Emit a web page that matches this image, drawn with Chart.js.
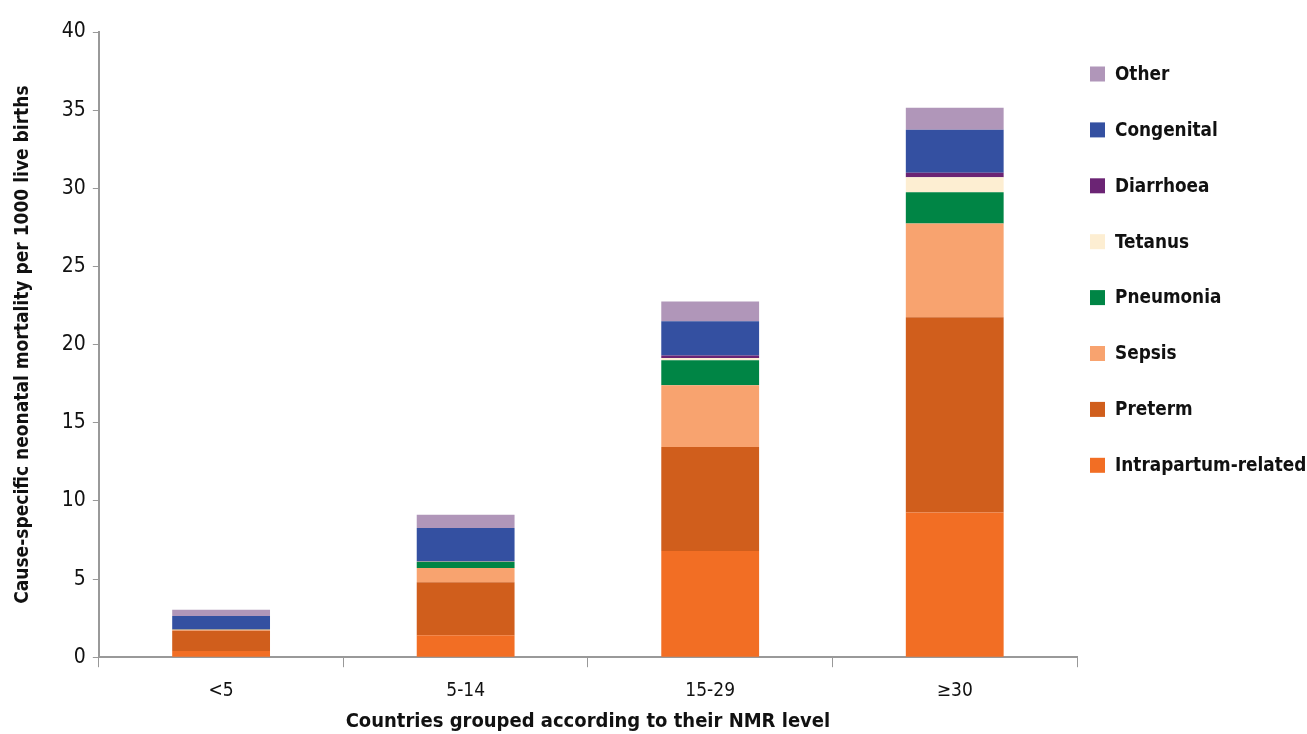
<!DOCTYPE html>
<html>
<head>
<meta charset="utf-8">
<script src="https://cdn.jsdelivr.net/npm/chart.js@4"></script>
<style>
  body { margin: 0; background: #fff; }
  #wrap { width: 1307px; height: 734px; position: relative; }
</style>
</head>
<body>
<div id="wrap"><canvas id="myChart"></canvas></div>
<script>
const groups = ["<5", "5-14", "15-29", "\u226530"];

const intrapartum = [0.4, 1.4, 6.8, 9.25];
const preterm     = [1.3, 3.4, 6.65, 12.5];
const sepsis      = [0.05, 0.9, 3.95, 6.0];
const pneumonia   = [0.03, 0.4, 1.6, 2.0];
const tetanus     = [0.0, 0.03, 0.15, 0.95];
const diarrhoea   = [0.01, 0.03, 0.15, 0.3];
const congenital  = [0.85, 2.1, 2.2, 2.75];
const other       = [0.4, 0.85, 1.25, 1.4];

const yTicks = [0, 5, 10, 15, 20, 25, 30, 35, 40];

const font = "'Liberation Sans Narrow', 'DejaVu Sans Condensed', 'Roboto Condensed', sans-serif";

const mk = (label, data, color) => ({
    label,
    data,
    backgroundColor: color,
    borderWidth: 0,
    barPercentage: 0.4,
    categoryPercentage: 1.0,
});

// legend drawn by hand so it can sit where the original has it
const sideLegend = {
    id: 'sideLegend',
    afterDraw(chart) {
        const c = chart.ctx;
        const items = Chart.defaults.plugins.legend.labels.generateLabels(chart).reverse();
        const x0 = chart.chartArea.right + 13;
        c.save();
        c.font = "bold 18.8px " + font;
        c.textBaseline = 'middle';
        items.forEach((it, i) => {
            const y = 74 + i * 55.9;
            c.fillStyle = it.fillStyle;
            c.fillRect(x0, y - 7.5, 15, 15);
            c.fillStyle = '#111';
            c.fillText(it.text, x0 + 25, y + 1);
        });
        c.restore();
    }
};

const ctx = document.getElementById('myChart').getContext('2d');
const myChart = new Chart(ctx, {
    type: 'bar',
    data: {
        labels: groups,
        datasets: [
            mk('Intrapartum-related', intrapartum, '#F26E24'),
            mk('Preterm', preterm, '#D05E1C'),
            mk('Sepsis', sepsis, '#F8A36F'),
            mk('Pneumonia', pneumonia, '#008545'),
            mk('Tetanus', tetanus, '#FDEED2'),
            mk('Diarrhoea', diarrhoea, '#6B2474'),
            mk('Congenital', congenital, '#3450A1'),
            mk('Other', other, '#B096B9'),
        ]
    },
    plugins: [sideLegend],
    options: {
        responsive: true,
        maintainAspectRatio: false,
        animation: false,
        devicePixelRatio: 1,
        layout: { padding: { top: 32, left: 8, right: 230, bottom: 0 } },
        plugins: {
            tooltip: { enabled: false },
            legend: { display: false }
        },
        scales: {
            x: {
                stacked: true,
                offset: true,
                grid: {
                    offset: true,
                    drawOnChartArea: false,
                    drawTicks: true,
                    tickLength: 10,
                    color: '#999',
                },
                border: { color: '#999', width: 2 },
                ticks: {
                    color: '#111',
                    padding: 12,
                    font: { family: font, size: 19 },
                },
                title: {
                    display: true,
                    text: 'Countries grouped according to their NMR level',
                    color: '#111',
                    font: { family: font, size: 20, weight: 'bold' },
                    padding: { top: -4, bottom: 0 },
                }
            },
            y: {
                stacked: true,
                min: 0,
                max: 40,
                afterBuildTicks: (axis) => { axis.ticks = yTicks.map(v => ({ value: v })); },
                grid: {
                    drawOnChartArea: false,
                    drawTicks: true,
                    tickLength: 6,
                    color: '#999',
                },
                border: { color: '#999', width: 2 },
                ticks: {
                    color: '#111',
                    padding: 7,
                    font: { family: font, size: 21 },
                },
                title: {
                    display: true,
                    text: 'Cause-specific neonatal mortality per 1000 live births',
                    color: '#111',
                    font: { family: font, size: 19, weight: 'bold' },
                    padding: { bottom: 20 },
                }
            }
        }
    }
});
</script>
</body>
</html>
